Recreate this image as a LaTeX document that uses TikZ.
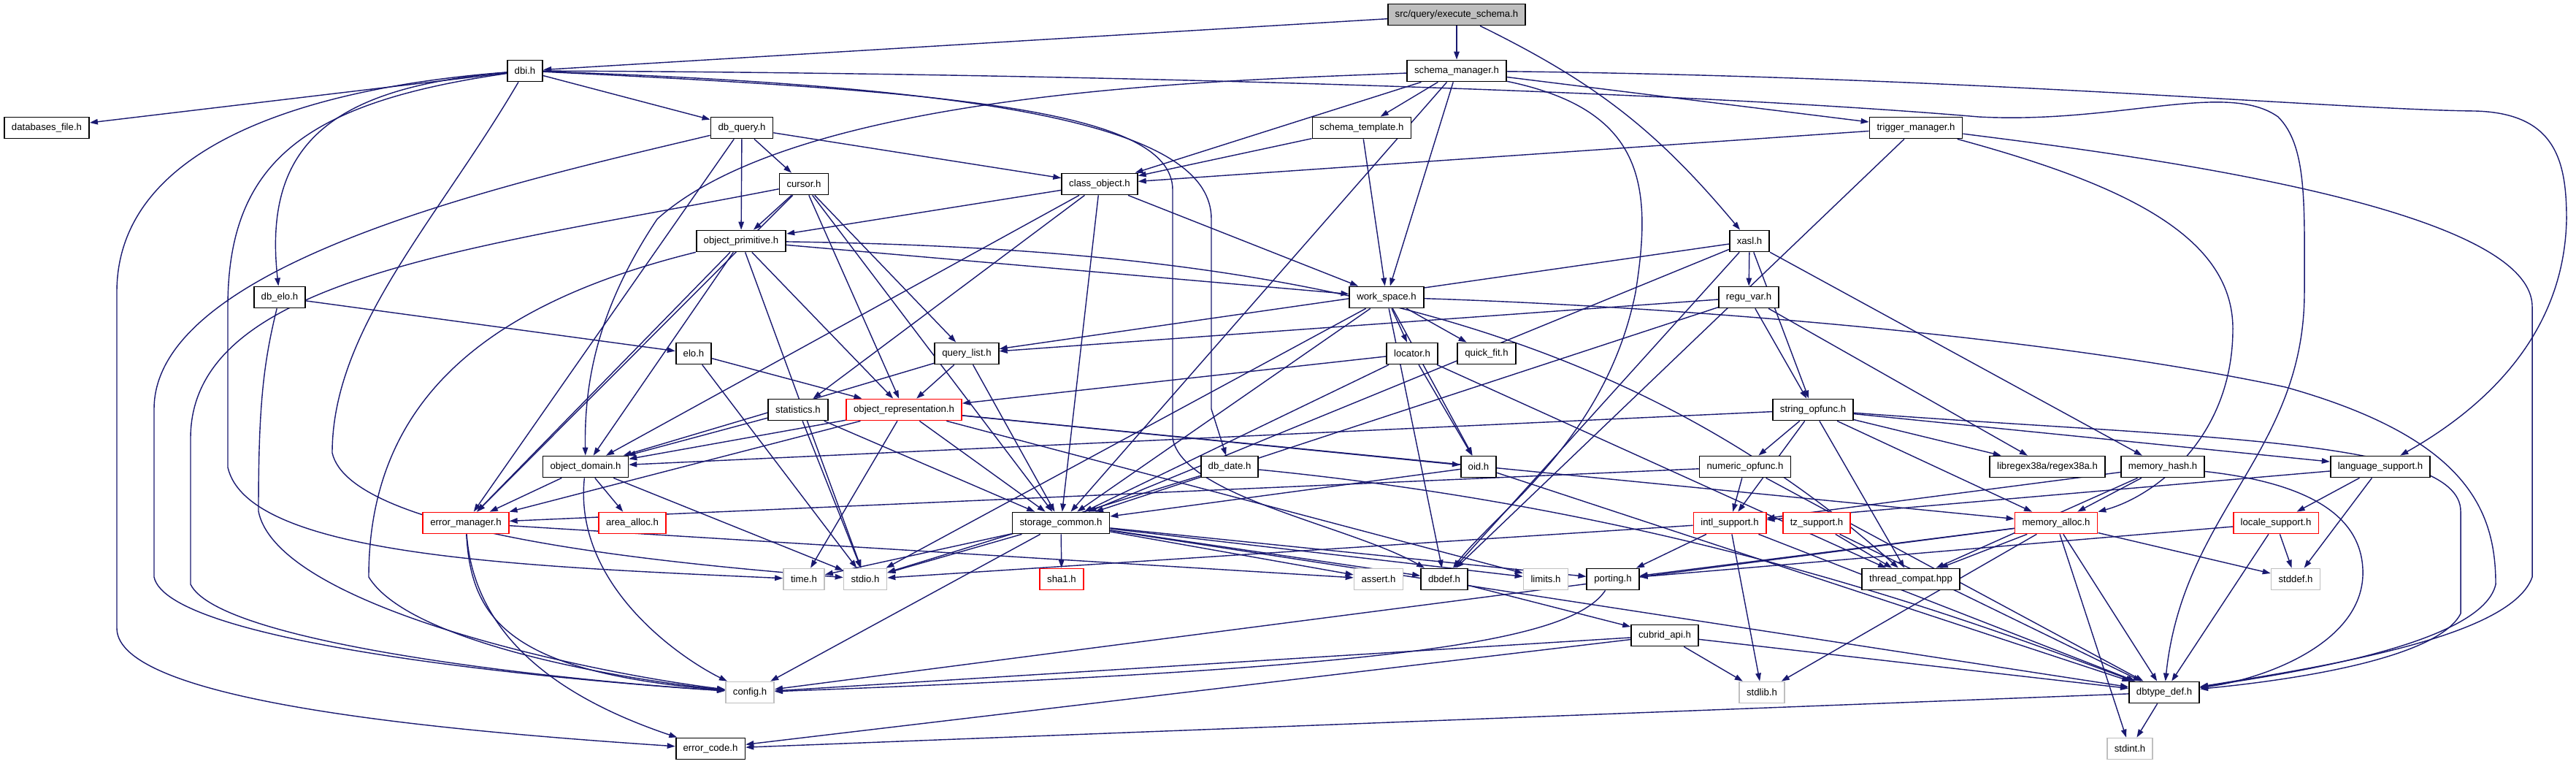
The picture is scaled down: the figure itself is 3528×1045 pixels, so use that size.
\documentclass[tikz,border=0pt]{standalone}
\usepackage{fontspec}
\setmainfont{Liberation Sans}
\usetikzlibrary{arrows.meta}
\definecolor{edgeblue}{RGB}{25,25,112}
\definecolor{truncred}{RGB}{255,0,0}
\definecolor{sysgray}{RGB}{191,191,191}
\newcommand\hdrfont{\fontsize{3.75pt}{4.5pt}\selectfont}
\pgfdeclarelayer{bg}
\pgfsetlayers{bg,main}
\begin{document}
\begin{tikzpicture}[x=0.01cm, y=-0.01cm,
hfile/.style={draw=black, line width=0.5pt, fill=white, inner xsep=0.1cm, inner ysep=0pt, minimum height=0.29cm, font=\hdrfont},
trunc/.style={hfile, draw=truncred},
sys/.style={hfile, draw=sysgray},
incl/.style={draw=edgeblue, line width=0.4pt, -{Triangle[length=0.11cm, width=0.075cm]}}
]
\useasboundingbox (0,0) rectangle (3528,1045);

% headers, row by row
\node[hfile, fill=sysgray] (exec) at (1995,20) {src/query/execute\_schema.h};
\node[hfile] (dbi) at (719,97) {dbi.h};
\node[hfile] (schemamgr) at (1995,97) {schema\_manager.h};
\node[hfile] (dbfile) at (64,175) {databases\_file.h};
\node[hfile] (dbquery) at (1016,175) {db\_query.h};
\node[hfile] (schematpl) at (1865,175) {schema\_template.h};
\node[hfile] (trigger) at (2624,175) {trigger\_manager.h};
\node[hfile] (cursor) at (1101,252) {cursor.h};
\node[hfile] (classobj) at (1506,252) {class\_object.h};
\node[hfile] (objprim) at (1015,330) {object\_primitive.h};
\node[hfile] (xasl) at (2396,330) {xasl.h};
\node[hfile] (dbelo) at (383,407) {db\_elo.h};
\node[hfile] (workspace) at (1899,407) {work\_space.h};
\node[hfile] (reguvar) at (2395,407) {regu\_var.h};
\node[hfile] (elo) at (950,484) {elo.h};
\node[hfile] (querylist) at (1324,484) {query\_list.h};
\node[hfile] (locator) at (1934,484) {locator.h};
\node[hfile] (quickfit) at (2036,484) {quick\_fit.h};
\node[hfile] (statistics) at (1093,561) {statistics.h};
\node[trunc] (objrepr) at (1238,561) {object\_representation.h};
\node[hfile] (stringop) at (2483,561) {string\_opfunc.h};
\node[hfile] (objdomain) at (802,639) {object\_domain.h};
\node[hfile] (dbdate) at (1684,639) {db\_date.h};
\node[hfile] (oid) at (2025,639) {oid.h};
\node[hfile] (numericop) at (2390,639) {numeric\_opfunc.h};
\node[hfile] (regex) at (2804,639) {libregex38a/regex38a.h};
\node[hfile] (memhash) at (2962,639) {memory\_hash.h};
\node[hfile] (langsupp) at (3260,639) {language\_support.h};
\node[trunc] (errmgr) at (638,716) {error\_manager.h};
\node[trunc] (areaalloc) at (866,716) {area\_alloc.h};
\node[hfile] (storage) at (1453,716) {storage\_common.h};
\node[trunc] (intl) at (2369,716) {intl\_support.h};
\node[trunc] (tz) at (2488,716) {tz\_support.h};
\node[trunc] (memalloc) at (2816,716) {memory\_alloc.h};
\node[trunc] (locale) at (3117,716) {locale\_support.h};
\node[sys] (time) at (1101,793) {time.h};
\node[sys] (stdio) at (1185,793) {stdio.h};
\node[trunc] (sha1) at (1454,793) {sha1.h};
\node[sys] (assert) at (1888,793) {assert.h};
\node[hfile] (dbdef) at (1978,793) {dbdef.h};
\node[sys] (limits) at (2117,793) {limits.h};
\node[hfile] (porting) at (2209,793) {porting.h};
\node[hfile] (thread) at (2617,793) {thread\_compat.hpp};
\node[sys] (stddef) at (3144,793) {stddef.h};
\node[hfile] (cubridapi) at (2280,870) {cubrid\_api.h};
\node[sys] (config) at (1027,948) {config.h};
\node[sys] (stdlib) at (2413,948) {stdlib.h};
\node[hfile] (dbtype) at (2964,948) {dbtype\_def.h};
\node[hfile] (errcode) at (973,1025) {error\_code.h};
\node[sys] (stdint) at (2917,1025) {stdint.h};

\begin{pgfonlayer}{bg}
% plain includes
\foreach \a/\b in {exec/dbi, exec/schemamgr,
  dbi/dbfile, dbi/dbquery,
  schemamgr/schematpl, schemamgr/classobj, schemamgr/trigger, schemamgr/workspace, schemamgr/storage,
  schematpl/classobj, schematpl/workspace,
  trigger/classobj, trigger/dbdef,
  dbquery/cursor, dbquery/objprim, dbquery/classobj, dbquery/errmgr,
  cursor/objprim, cursor/querylist, cursor/storage, cursor/objrepr, cursor/errmgr,
  classobj/objprim, classobj/workspace, classobj/statistics, classobj/storage, classobj/objdomain,
  objprim/workspace, objprim/objdomain, objprim/errmgr, objprim/objrepr, objprim/stdio,
  dbelo/elo, elo/objrepr, elo/stdio,
  xasl/reguvar, xasl/querylist, xasl/stringop, xasl/storage, xasl/memhash, xasl/dbdef,
  reguvar/querylist, reguvar/stringop, reguvar/regex, reguvar/storage,
  workspace/locator, workspace/quickfit, workspace/oid, workspace/storage, workspace/dbdef, workspace/stdio,
  locator/objrepr, locator/storage, locator/oid, locator/thread,
  querylist/objdomain, querylist/objrepr, querylist/storage,
  statistics/objdomain, statistics/storage, statistics/stdio,
  objrepr/objdomain, objrepr/errmgr, objrepr/storage, objrepr/oid, objrepr/time, objrepr/memalloc, objrepr/limits,
  stringop/numericop, stringop/intl, stringop/regex, stringop/thread, stringop/langsupp, stringop/objdomain, stringop/memalloc,
  objdomain/errmgr, objdomain/areaalloc, objdomain/stdio,
  dbdate/stdio, oid/storage, oid/dbtype,
  numericop/intl, numericop/errmgr, numericop/dbtype,
  memhash/memalloc, memhash/thread, memhash/intl,
  langsupp/locale, langsupp/stddef, langsupp/intl,
  errmgr/assert,
  storage/stdio, storage/time, storage/sha1, storage/assert, storage/dbdef, storage/limits, storage/porting, storage/config, storage/dbtype,
  intl/stdlib, intl/dbtype, intl/porting, intl/stdio,
  tz/thread, tz/dbtype,
  memalloc/thread, memalloc/stdlib, memalloc/dbtype, memalloc/stdint, memalloc/stddef, memalloc/porting, memalloc/config,
  locale/stddef, locale/dbtype, locale/porting,
  dbdef/cubridapi, cubridapi/config, cubridapi/stdlib, cubridapi/dbtype, cubridapi/errcode,
  dbtype/stdint, dbtype/errcode}
  \draw[incl] (\a) -- (\b);

\draw[incl] (exec) to[bend left=12] (xasl);
\draw[incl] (dbi) .. controls (450,120) and (360,200) .. (dbelo);
\draw[incl] (porting) .. controls (2150,880) and (1900,915) .. (config);

% long ways round on the left
\draw[incl] (dbi) .. controls (420,120) and (160,200) .. (160,400) -- (160,860) .. controls (160,960) and (600,1000) .. (errcode);
\draw[incl] (dbquery) .. controls (700,250) and (211,360) .. (211,560) -- (211,790) .. controls (230,880) and (750,930) .. (config);
\draw[incl] (cursor) .. controls (650,340) and (261,380) .. (261,600) -- (261,800) .. controls (300,880) and (750,930) .. (config);
\draw[incl] (dbi) .. controls (420,140) and (312,220) .. (312,420) -- (312,640) .. controls (340,760) and (700,775) .. (time);
\draw[incl] (dbelo) .. controls (360,500) and (354,560) .. (354,700) .. controls (380,830) and (800,920) .. (config);
\draw[incl] (dbi) .. controls (600,300) and (455,450) .. (455,620) .. controls (480,730) and (900,770) .. (stdio);
\draw[incl] (objprim) .. controls (650,420) and (505,560) .. (505,790) .. controls (560,880) and (850,930) .. (config);
\draw[incl] (errmgr) .. controls (645,850) and (700,920) .. (config);
\draw[incl] (errmgr) .. controls (650,880) and (780,960) .. (errcode);
\draw[incl] (objdomain) .. controls (785,800) and (930,900) .. (config);

% long ways round on the right
\draw[incl] (dbi) .. controls (1500,100) and (2300,125) .. (2710,160) .. controls (2900,170) and (3050,110) .. (3120,160) .. controls (3160,200) and (3156,280) .. (3156,400) .. controls (3156,620) and (2990,700) .. (dbtype);
\draw[incl] (dbi) .. controls (1400,120) and (1659,180) .. (1659,300) -- (1659,560) -- (dbdate);
\draw[incl] (dbi) .. controls (1300,125) and (1606,150) .. (1606,260) -- (1606,600) .. controls (1620,680) and (1850,720) .. (dbdef);
\draw[incl] (schemamgr) .. controls (1700,110) and (1100,120) .. (900,300) .. controls (820,420) and (800,520) .. (objdomain);
\draw[incl] (schemamgr) .. controls (2700,105) and (3200,150) .. (3390,152) .. controls (3500,155) and (3515,220) .. (3515,300) .. controls (3512,460) and (3400,560) .. (langsupp);
\draw[incl] (schemamgr) .. controls (2250,150) and (2264,250) .. (2240,400) .. controls (2200,600) and (2050,700) .. (dbdef);
\draw[incl] (trigger) .. controls (2900,210) and (3468,280) .. (3468,420) -- (3468,790) .. controls (3440,870) and (3200,910) .. (dbtype);
\draw[incl] (trigger) .. controls (2900,250) and (3058,320) .. (3058,450) .. controls (3058,600) and (2950,680) .. (memalloc);
\draw[incl] (workspace) .. controls (2300,420) and (2800,460) .. (3130,530) .. controls (3380,600) and (3418,700) .. (3418,800) .. controls (3400,880) and (3150,920) .. (dbtype);
\draw[incl] (stringop) .. controls (3000,600) and (3370,600) .. (3370,700) -- (3370,840) .. controls (3340,900) and (3150,930) .. (dbtype);
\draw[incl] (memhash) .. controls (3150,660) and (3233,700) .. (3236,780) .. controls (3240,880) and (3100,930) .. (dbtype);
\draw[incl] (dbdate) .. controls (2300,700) and (2700,850) .. (dbtype);
\draw[incl] (objprim) .. controls (1700,340) and (2200,420) .. (thread);
\end{pgfonlayer}
\end{tikzpicture}
\end{document}
